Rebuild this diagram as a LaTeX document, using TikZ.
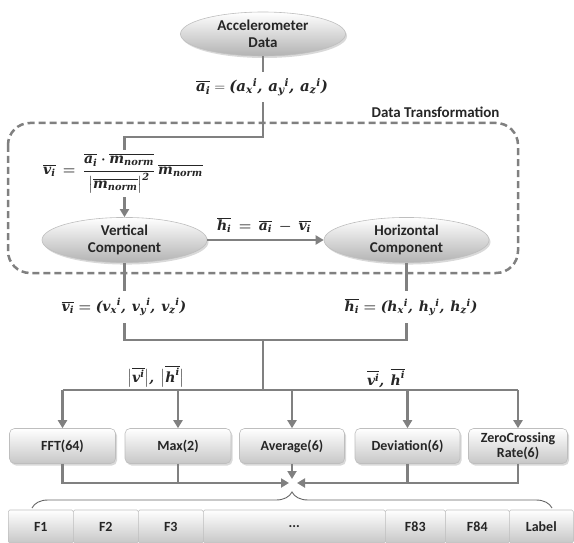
\documentclass[tikz,border=0pt]{standalone}
\usepackage{amsmath}
\usepackage{fontspec}
\setmainfont{Carlito}
\newfontfamily\lsfam{DejaVu Serif}
\newcommand{\B}[1]{\text{\lsfam\bfseries\itshape #1}}
\newcommand{\cm}{\B{,}\ \,}
\usetikzlibrary{shapes.geometric,shadows,arrows.meta,decorations.pathreplacing}
\definecolor{lc}{RGB}{128,128,128}
\definecolor{bd}{RGB}{190,190,190}
\tikzset{
  txt/.style={font=\fontsize{14}{16}\selectfont\bfseries, text=black!85},
  bigtxt/.style={font=\fontsize{15}{17}\selectfont\bfseries, text=black!85},
  mth/.style={font=\fontsize{14}{16}\selectfont\boldmath, text=black!85, inner sep=0pt},
  ell/.style={ellipse, bigtxt, align=center, minimum width=165pt, minimum height=44pt,
    inner sep=1pt,
    top color=white, bottom color=black!30, draw=bd, line width=0.6pt,
    drop shadow={opacity=0.3, shadow xshift=1.5pt, shadow yshift=-2pt}},
  box/.style={rectangle, rounded corners=5pt, txt, align=center, minimum height=35pt,
    top color=white, bottom color=black!22, draw=bd, line width=0.6pt,
    drop shadow={opacity=0.3, shadow xshift=1.5pt, shadow yshift=-2pt}},
  cell/.style={rectangle, rounded corners=1.5pt, txt, anchor=west, minimum height=33pt,
    top color=white, bottom color=black!22, draw=bd, line width=0.6pt, inner sep=0pt},
  conn/.style={draw=lc, line width=2.6pt},
  arr/.style={conn, -{Triangle[length=8pt,width=9pt]}},
  dashbox/.style={draw=lc, line width=2.5pt, dash pattern=on 7pt off 4pt, rounded corners=22pt},
  bracestyle/.style={draw=black!60, line width=0.9pt, decorate,
    decoration={brace, amplitude=16pt}}
}
\begin{document}
\begin{tikzpicture}[x=1pt,y=-1pt]
\useasboundingbox (0,0) rectangle (574,543);

% top
\node[ell] (acc) at (263,34) {Accelerometer\\Data};
\node[mth, minimum height=30pt, font=\fontsize{15}{17}\selectfont] (fa) at (262,87)
  {$\overline{\B{a}_{\B{i}}} = \B{(}\B{a}_{\B{x}}{}^{\B{i}}\cm\B{a}_{\B{y}}{}^{\B{i}}\cm\B{a}_{\B{z}}{}^{\B{i}}\B{)}$};
\draw[conn] (acc.south) -- (acc.south |- fa.north);

% data transformation frame
\draw[dashbox] (8,123) rectangle (518,273);
\node[bigtxt, anchor=east] (dt) at (503,112) {Data Transformation};

\node[mth, minimum height=47pt] (fv) at (123,173.5)
  {$\overline{\B{v}_{\B{i}}}\, = \,\dfrac{\overline{\B{a}_{\B{i}}}\cdot\overline{\B{m}_{\B{norm}}}}{\bigl|\overline{\B{m}_{\B{norm}}}\bigr|^{\B{2}}}\ \overline{\B{m}_{\B{norm}}}$};
\coordinate (t1) at (263,137);
\coordinate (t2) at (124.5,137);
\draw[conn] (acc |- fa.south) -- (t1) -- (t2) -- (t2 |- fv.north);

\node[ell] (vert) at (124.5,240) {Vertical\\Component};
\node[ell] (horz) at (406.5,240) {Horizontal\\Component};
\draw[arr] (vert |- fv.south) -- (vert.north);
\draw[arr] (vert.east) -- (horz.west);
\node[mth] (fh) at (264,225) {$\overline{\B{h}_{\B{i}}}\, = \,\overline{\B{a}_{\B{i}}}\ -\ \overline{\B{v}_{\B{i}}}$};

% components
\node[mth, minimum height=32pt] (fvv) at (124,307)
  {$\overline{\B{v}_{\B{i}}} = \B{(}\B{v}_{\B{x}}{}^{\B{i}}\cm\B{v}_{\B{y}}{}^{\B{i}}\cm\B{v}_{\B{z}}{}^{\B{i}}\B{)}$};
\node[mth, minimum height=32pt] (fhh) at (411,307)
  {$\overline{\B{h}_{\B{i}}} = \B{(}\B{h}_{\B{x}}{}^{\B{i}}\cm\B{h}_{\B{y}}{}^{\B{i}}\cm\B{h}_{\B{z}}{}^{\B{i}}\B{)}$};
\draw[conn] (vert.south) -- (vert |- fvv.north);
\draw[conn] (horz.south) -- (horz |- fvv.north);
\coordinate (j1) at (263,340);
\coordinate (bus) at (263,390);
\draw[conn] (vert |- fvv.south) |- (j1) -| (horz |- fhh.south);
\draw[conn] (j1) -- (bus);

\node[mth] (lm) at (156,376) {$\bigl|\overline{\B{v}^{\B{i}}}\bigr|\B{,}\ \ \bigl|\overline{\B{h}^{\B{i}}}\bigr|$};
\node[mth] (lv) at (386,378) {$\overline{\B{v}^{\B{i}}}\B{,}\ \ \overline{\B{h}^{\B{i}}}$};

% feature boxes
\node[box, minimum width=106pt] (fft) at (62.5,446) {FFT(64)};
\node[box, minimum width=106pt] (mx)  at (178,446) {Max(2)};
\node[box, minimum width=105pt] (avg) at (292,446) {Average(6)};
\node[box, minimum width=105pt] (dev) at (407.5,446) {Deviation(6)};
\node[box, minimum width=99pt, inner sep=1pt, font=\fontsize{14}{15}\selectfont\bfseries] (zc)  at (518,446) {ZeroCrossing\\Rate(6)};

\draw[conn] (fft |- bus) -- (zc |- bus);
\foreach \b in {fft,mx,avg,dev,zc} {\draw[arr] (\b |- bus) -- (\b.north);}

% merge
\coordinate (ml) at (289,483);
\coordinate (mr) at (297,483);
\coordinate (mt) at (292,479);
\draw[conn] (mx.south) -- (mx.south |- ml);
\draw[arr] (fft.south) |- (ml);
\draw[conn] (dev.south) -- (dev.south |- mr);
\draw[arr] (zc.south) |- (mr);
\draw[arr] (avg.south) -- (mt);

% brace
\coordinate (bl) at (32,508);
\coordinate (br) at (552,508);
\draw[bracestyle] (bl) -- (br);

% feature vector
\node[cell, minimum width=65pt] (f1) at (8,526.5) {F1};
\node[cell, minimum width=65pt] (f2) at (73,526.5) {F2};
\node[cell, minimum width=65pt] (f3) at (138,526.5) {F3};
\node[cell, minimum width=182pt] (fd) at (203,526.5) {...};
\node[cell, minimum width=60pt] (f83) at (385,526.5) {F83};
\node[cell, minimum width=64pt] (f84) at (445,526.5) {F84};
\node[cell, minimum width=64pt] (lab) at (509,526.5) {Label};
\end{tikzpicture}
\end{document}
